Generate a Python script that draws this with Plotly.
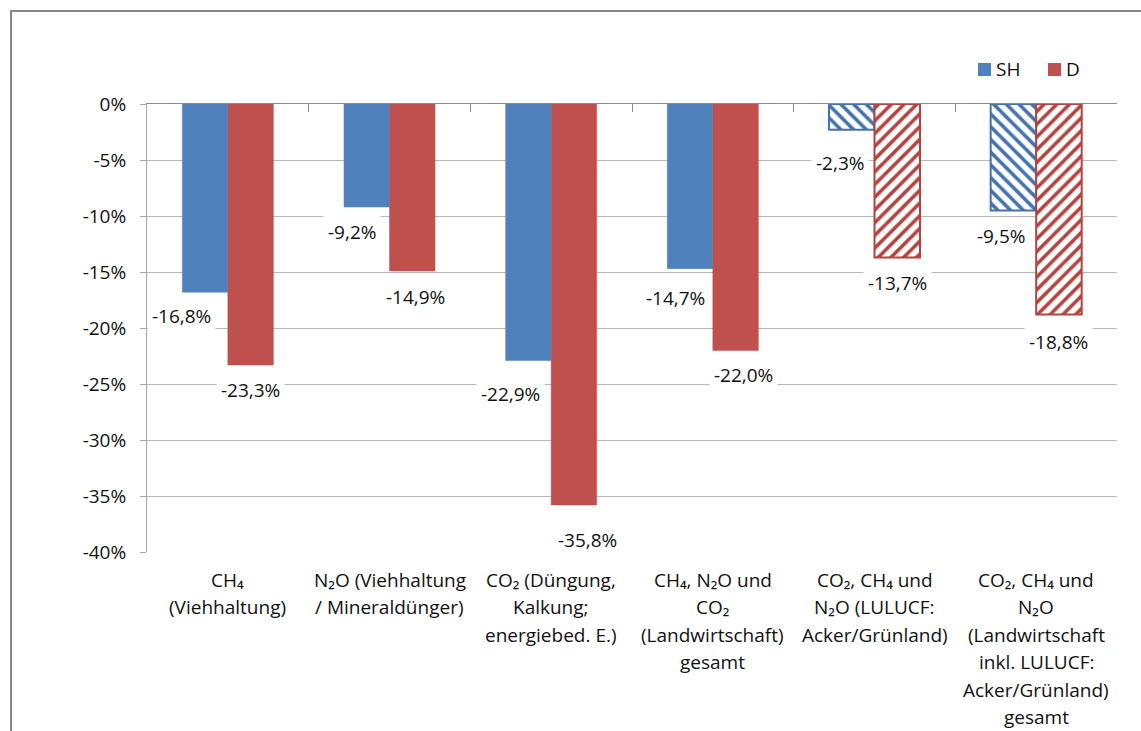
import plotly.graph_objects as go

# --- data -------------------------------------------------------------
category_lines = [
    ["CH₄", "(Viehhaltung)"],
    ["N₂O (Viehhaltung", "/ Mineraldünger)"],
    ["CO₂ (Düngung,", "Kalkung;", "energiebed. E.)"],
    ["CH₄, N₂O und", "CO₂", "(Landwirtschaft)", "gesamt"],
    ["CO₂, CH₄ und", "N₂O (LULUCF:", "Acker/Grünland)"],
    ["CO₂, CH₄ und", "N₂O", "(Landwirtschaft", "inkl. LULUCF:", "Acker/Grünland)", "gesamt"],
]
categories = ["<br>".join(lines) for lines in category_lines]

series_names = ["SH", "D"]
sh_values = [-16.8, -9.2, -22.9, -14.7, -2.3, -9.5]
d_values = [-23.3, -14.9, -35.8, -22.0, -13.7, -18.8]
hatched = [False, False, False, False, True, True]

y_tickvals = [0, -5, -10, -15, -20, -25, -30, -35, -40]
y_ticktext = ["0%", "-5%", "-10%", "-15%", "-20%", "-25%", "-30%", "-35%", "-40%"]

# --- styling ------------------------------------------------------------
W, H = 1141, 731
ML, MR, MT, MB = 147, 24, 104, 179
PW, PH = W - ML - MR, H - MT - MB
BARGAP = 0.437
FONT = "Open Sans"
FS = 19
TXT = "#111111"

solid_colors = {"SH": "#4F81BD", "D": "#C0504D"}
hatch_colors = {"SH": "#4472AC", "D": "#B4433F"}
hatch_shapes = {"SH": "\\", "D": "/"}

# label offsets (px) relative to the bar's centre / end
label_dx = {"SH": [-24, -15, -18, -15, -12, -12], "D": [0, 3, 14, 8, 0, 0]}
label_dy = {"SH": [24, 25, 34, 29, 33, 26], "D": [25, 26, 35, 25, 26, 27]}

cat_px = PW / len(categories)
bar_px = cat_px * (1 - BARGAP) / 2
bar_shift = {"SH": -bar_px / 2, "D": bar_px / 2}

fig = go.Figure()
for name, vals in zip(series_names, [sh_values, d_values]):
    fill = [hatch_colors[name] if h else solid_colors[name] for h in hatched]
    line_w = [2 if h else 0.5 for h in hatched]
    shapes = [hatch_shapes[name] if h else "" for h in hatched]
    # hatched bars: coloured fill overlaid with white stripes
    fig.add_bar(
        x=categories, y=vals, name=name, showlegend=False,
        marker=dict(
            color=fill,
            line=dict(color=fill, width=line_w),
            pattern=dict(shape=shapes, fgcolor="white", fgopacity=1,
                         size=9, solidity=0.6, fillmode="overlay"),
        ),
    )

annotations = []
# value labels
for name, vals in zip(series_names, [sh_values, d_values]):
    for i, v in enumerate(vals):
        annotations.append(dict(
            x=categories[i], y=v, xref="x", yref="y",
            text=f"{v:.1f}%".replace(".", ","),
            showarrow=False, bgcolor="white", borderpad=4,
            xshift=bar_shift[name] + label_dx[name][i],
            yshift=-label_dy[name][i],
            font=dict(family=FONT, size=FS, color=TXT),
        ))
# category labels (one annotation per line)
for i, lines in enumerate(category_lines):
    for k, line in enumerate(lines):
        annotations.append(dict(
            x=categories[i], y=0, xref="x", yref="paper",
            text=line, showarrow=False, yanchor="middle",
            yshift=-(28 + 27.4 * k),
            font=dict(family=FONT, size=FS, color=TXT),
        ))

def px_x(px):
    return (px - ML) / PW

def px_y(py):
    return (MT + PH - py) / PH

shapes = []
# legend
legend_x = [978, 1048]
for name, lx in zip(series_names, legend_x):
    shapes.append(dict(type="rect", xref="paper", yref="paper",
                       x0=px_x(lx), x1=px_x(lx + 13), y0=px_y(76), y1=px_y(63),
                       fillcolor=solid_colors[name], line=dict(width=0)))
    annotations.append(dict(
        x=px_x(lx + 16), y=px_y(69.5), xref="paper", yref="paper",
        text=name, showarrow=False, xanchor="left", yanchor="middle",
        font=dict(family=FONT, size=FS, color=TXT),
    ))
# chart frame
shapes.append(dict(type="rect", xref="paper", yref="paper",
                   x0=px_x(11), x1=px_x(1300), y0=px_y(11), y1=px_y(900),
                   line=dict(color="#888888", width=2), fillcolor="rgba(0,0,0,0)",
                   layer="below"))

fig.update_layout(
    width=W, height=H, autosize=False,
    margin=dict(l=ML, r=MR, t=MT, b=MB, pad=0),
    paper_bgcolor="white", plot_bgcolor="white",
    barmode="group", bargap=BARGAP, bargroupgap=0,
    font=dict(family=FONT, size=FS, color=TXT),
    annotations=annotations, shapes=shapes,
    xaxis=dict(type="category", side="top", range=[-0.5, len(categories) - 0.5],
               showline=True, linecolor="#8C8C8C", linewidth=1,
               ticks="inside", ticklen=8, tickcolor="#8C8C8C", tickson="boundaries",
               showticklabels=False, showgrid=False, zeroline=False, fixedrange=True),
    yaxis=dict(range=[-40, 0], tickvals=y_tickvals, ticktext=y_ticktext,
               ticks="outside", ticklen=6, tickcolor="#A6A6A6",
               showline=True, linecolor="#A6A6A6", linewidth=1,
               gridcolor="#B8B8B8", gridwidth=1, zeroline=False,
               ticklabelstandoff=10,
               tickfont=dict(family=FONT, size=FS, color=TXT), fixedrange=True),
)

fig.write_html("out.html")
